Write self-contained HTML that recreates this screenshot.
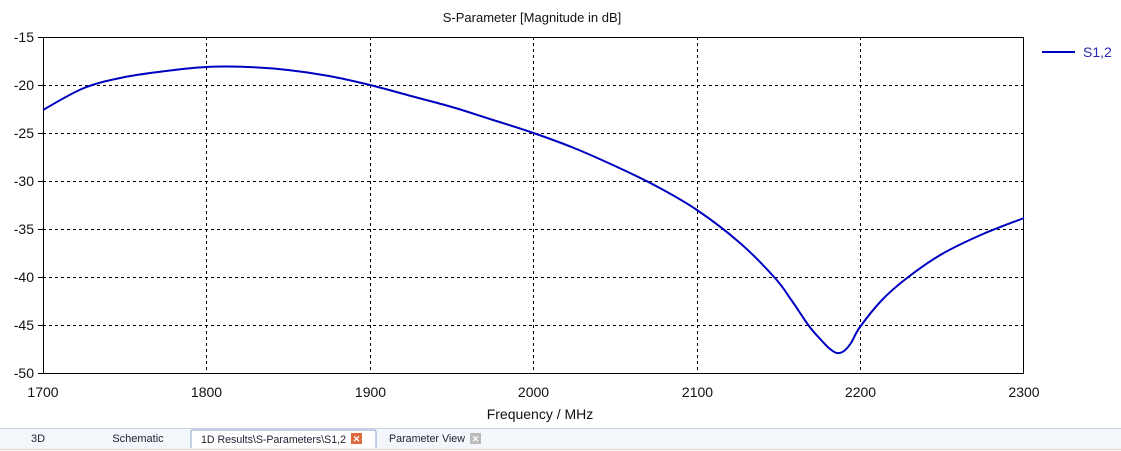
<!DOCTYPE html>
<html><head><meta charset="utf-8"><style>
html,body{margin:0;padding:0;background:#fff;width:1121px;height:451px;overflow:hidden;font-family:"Liberation Sans",sans-serif}
</style></head><body>
<svg width="1121" height="451" viewBox="0 0 1121 451" xmlns="http://www.w3.org/2000/svg" style="position:absolute;left:0;top:0" font-family="Liberation Sans, sans-serif">
<rect width="1121" height="451" fill="#fff"/>
<text x="532" y="22" font-size="13" text-anchor="middle" fill="#111">S-Parameter [Magnitude in dB]</text>
<g stroke="#000" stroke-width="1" stroke-dasharray="3,3" fill="none">
<line x1="206.5" y1="37" x2="206.5" y2="373"/>
<line x1="370.5" y1="37" x2="370.5" y2="373"/>
<line x1="533.5" y1="37" x2="533.5" y2="373"/>
<line x1="697.5" y1="37" x2="697.5" y2="373"/>
<line x1="860.5" y1="37" x2="860.5" y2="373"/>
<line x1="43" y1="85.5" x2="1024" y2="85.5"/>
<line x1="43" y1="133.5" x2="1024" y2="133.5"/>
<line x1="43" y1="181.5" x2="1024" y2="181.5"/>
<line x1="43" y1="229.5" x2="1024" y2="229.5"/>
<line x1="43" y1="277.5" x2="1024" y2="277.5"/>
<line x1="43" y1="325.5" x2="1024" y2="325.5"/>
</g>
<rect x="43.5" y="37.5" width="980" height="336" fill="none" stroke="#000" stroke-width="1"/>
<g stroke="#000"><line x1="38" y1="37.5" x2="43" y2="37.5"/><line x1="38" y1="85.5" x2="43" y2="85.5"/><line x1="38" y1="133.5" x2="43" y2="133.5"/><line x1="38" y1="181.5" x2="43" y2="181.5"/><line x1="38" y1="229.5" x2="43" y2="229.5"/><line x1="38" y1="277.5" x2="43" y2="277.5"/><line x1="38" y1="325.5" x2="43" y2="325.5"/><line x1="38" y1="373.5" x2="43" y2="373.5"/></g>
<g font-size="14" fill="#111" text-anchor="end">
<text x="34" y="42">-15</text><text x="34" y="90">-20</text><text x="34" y="138">-25</text><text x="34" y="186">-30</text><text x="34" y="234">-35</text><text x="34" y="282">-40</text><text x="34" y="330">-45</text><text x="34" y="378">-50</text>
</g>
<g font-size="14" fill="#111" text-anchor="middle">
<text x="43" y="397">1700</text><text x="206.5" y="397">1800</text><text x="370.5" y="397">1900</text><text x="533.5" y="397">2000</text><text x="697.5" y="397">2100</text><text x="860.5" y="397">2200</text><text x="1024" y="397">2300</text>
</g>
<text x="540" y="419" font-size="14" text-anchor="middle" fill="#111">Frequency / MHz</text>
<path id="curve" fill="none" stroke="#0000c0" stroke-width="2" stroke-linejoin="round" d="M43,110 L84,88 L125,77 L166,71 L206.5,67 L247.5,67 L288,70 L329,76 L370,85 L411,96 L452,107 L493,120 L533.5,133 L574,148 L615,166 L656,186 L697,210 L740,243 L775,278 L792,301 L809,326 L822,341 L830,349 L837,353 L844,351 L851,343 L860,327 L882,300 L907,278 L942,254 L983,234 L1024,218"/>
<line x1="1042" y1="52" x2="1075" y2="52" stroke="#0000c0" stroke-width="2"/>
<text x="1083" y="57" font-size="14" fill="#2a2ab0">S1,2</text>
<rect x="0" y="428" width="1121" height="23" fill="#f3f6fb"/>
<line x1="0" y1="428.5" x2="1121" y2="428.5" stroke="#c8d4e6"/>
<line x1="0" y1="449.5" x2="1121" y2="449.5" stroke="#e8dcc0"/>
<path d="M191,448 L191,432 Q191,430 193,430 L374,430 Q376,430 376,432 L376,448" fill="#fff" stroke="#8aa4c8"/>
<g font-size="11" fill="#223">
<text x="38" y="442" text-anchor="middle">3D</text>
<text x="138" y="442" text-anchor="middle">Schematic</text>
<text x="201" y="443" textLength="145" lengthAdjust="spacingAndGlyphs">1D Results\S-Parameters\S1,2</text>
<text x="389" y="442" textLength="76" lengthAdjust="spacingAndGlyphs">Parameter View</text>
</g>
<rect x="351" y="433" width="11" height="11" fill="#e06a40"/>
<text x="356.5" y="442" font-size="9" fill="#fff" text-anchor="middle" font-weight="bold">✕</text>
<rect x="470" y="433" width="11" height="11" fill="#bbb"/>
<text x="475.5" y="442" font-size="9" fill="#fff" text-anchor="middle" font-weight="bold">✕</text>
</svg>
<script>
(function(){
var p=document.getElementById('curve');
var pts=p.getAttribute('d').replace(/[ML]/g,' ').trim().split(/\s+/).map(function(s){return s.split(',').map(Number);});
var d='M'+pts[0][0]+','+pts[0][1];
for(var i=0;i<pts.length-1;i++){
var p0=pts[i-1]||pts[i],p1=pts[i],p2=pts[i+1],p3=pts[i+2]||p2;
var c1=[p1[0]+(p2[0]-p0[0])/6,p1[1]+(p2[1]-p0[1])/6];
var c2=[p2[0]-(p3[0]-p1[0])/6,p2[1]-(p3[1]-p1[1])/6];
d+=' C'+c1[0].toFixed(1)+','+c1[1].toFixed(1)+' '+c2[0].toFixed(1)+','+c2[1].toFixed(1)+' '+p2[0]+','+p2[1];
}
p.setAttribute('d',d);
})();
</script>
</body></html>
